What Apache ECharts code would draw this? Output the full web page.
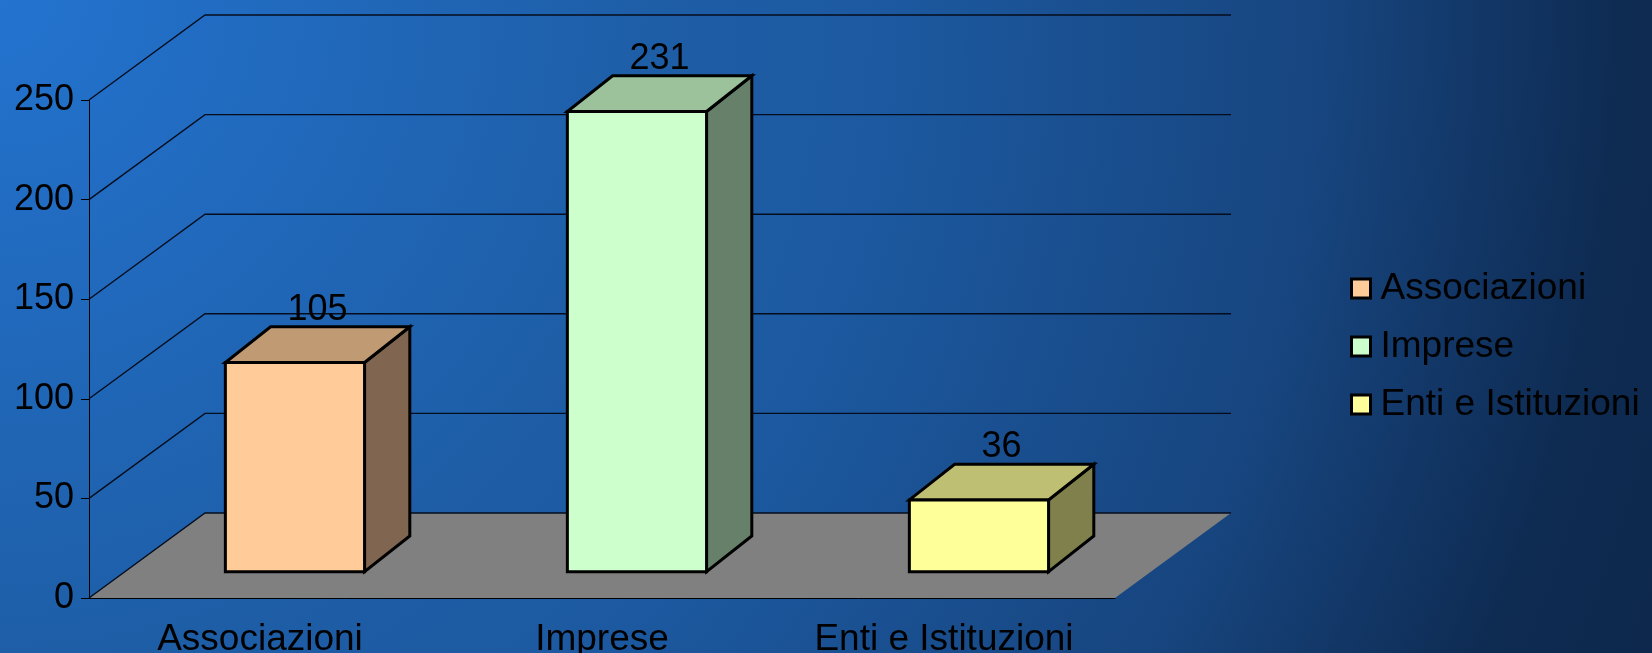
<!DOCTYPE html>
<html>
<head>
<meta charset="utf-8">
<script src="https://cdn.jsdelivr.net/npm/echarts@6/dist/echarts.min.js"></script>
<style>
  html, body { margin: 0; padding: 0; }
  #chart { width: 1652px; height: 653px; }
</style>
</head>
<body>
<div id="chart"></div>
<script>
// dati del grafico
const categories = ['Associazioni', 'Imprese', 'Enti e Istituzioni'];
const values = [105, 231, 36];
const yTicks = [0, 50, 100, 150, 200, 250];
const frontColors = ['#FFCC99', '#CCFFCC', '#FFFF99'];
const topColors = ['#C09A73', '#9BC29B', '#BFBF73'];
const sideColors = ['#806650', '#66806A', '#80804D'];

const FONT = '"Liberation Sans", Arial, sans-serif';
// profondita' della vista 3D (parete di fondo)
const DX = 116, DY = 85;
const F0 = 0.31, SHIFT = -1, BAR_W = 0.407;
const BAR_DX = DX * 0.39, BAR_DY = DY * 0.42;

let myChart = echarts.init(document.getElementById('chart'));

function renderWall(params, api) {
  const cs = params.coordSys;
  const v = api.value(1);
  const y = api.coord([0, v])[1];
  const x0 = cs.x, x1 = cs.x + cs.width;
  const children = [];
  if (v === 0) {
    children.push({
      type: 'polygon',
      shape: { points: [[x0, y], [x1, y], [x1 + DX, y - DY], [x0 + DX, y - DY]] },
      style: { fill: '#808080' }
    });
  }
  children.push({
    type: 'polyline',
    shape: { points: [[x0, y], [x0 + DX, y - DY], [x1 + DX, y - DY]] },
    style: { stroke: '#050d1c', lineWidth: 1.4, fill: null }
  });
  return { type: 'group', children: children };
}

function renderBar(params, api) {
  const i = params.seriesIndex - 1;
  const cat = api.value(0), val = api.value(1);
  const base = api.coord([cat, 0]);
  const top = api.coord([cat, val]);
  const bw = api.size([1, 0])[0] * BAR_W;
  const xl = base[0] - bw / 2 + DX * F0 + SHIFT, xr = xl + bw;
  const yb = base[1] - DY * F0, yt = top[1] - DY * F0;
  const dx = BAR_DX, dy = BAR_DY;
  const border = { stroke: '#000', lineWidth: 3, lineJoin: 'miter' };
  return {
    type: 'group',
    children: [
      {
        type: 'polygon',
        shape: { points: [[xr, yt], [xr + dx, yt - dy], [xr + dx, yb - dy], [xr, yb]] },
        style: Object.assign({ fill: sideColors[i] }, border)
      },
      {
        type: 'polygon',
        shape: { points: [[xl, yt], [xr, yt], [xr + dx, yt - dy], [xl + dx, yt - dy]] },
        style: Object.assign({ fill: topColors[i] }, border)
      },
      {
        type: 'polygon',
        shape: { points: [[xl, yt], [xr, yt], [xr, yb], [xl, yb]] },
        style: Object.assign({ fill: frontColors[i] }, border)
      },
      {
        type: 'text',
        style: {
          text: String(val),
          x: (xl + xr) / 2 + dx / 2,
          y: yt - dy + 1,
          align: 'center',
          verticalAlign: 'bottom',
          fill: '#000',
          fontSize: 36,
          fontFamily: FONT
        }
      }
    ]
  };
}

let series = [{
  name: 'parete',
  type: 'custom',
  renderItem: renderWall,
  z: 1,
  silent: true,
  data: yTicks.map(function (v) { return [0, v]; })
}];
categories.forEach(function (c, i) {
  series.push({
    name: c,
    type: 'custom',
    renderItem: renderBar,
    z: 2,
    itemStyle: { color: frontColors[i], borderColor: '#000', borderWidth: 3 },
    data: [[i, values[i]]]
  });
});

let option = {
  animation: false,
  backgroundColor: {
    type: 'radial',
    x: 0, y: 0, r: 2.7,
    colorStops: [
      { offset: 0, color: '#2373CF' },
      { offset: 0.37, color: '#1E5EA7' },
      { offset: 0.5, color: '#1C59A0' },
      { offset: 0.75, color: '#17457F' },
      { offset: 0.92, color: '#0E2B52' },
      { offset: 1, color: '#0D284C' }
    ]
  },
  grid: { left: 89, top: 100, width: 1026, height: 498, outerBoundsMode: 'none' },
  legend: {
    data: categories,
    orient: 'vertical',
    left: 1345,
    top: 265,
    icon: 'rect',
    itemWidth: 19,
    itemHeight: 19,
    itemGap: 21,
    itemStyle: { borderColor: '#000', borderWidth: 3 },
    textStyle: { color: '#000', fontSize: 37, fontFamily: FONT, padding: [0, 0, 0, 5] }
  },
  xAxis: {
    type: 'category',
    data: categories,
    axisLine: { lineStyle: { color: '#000', width: 1 } },
    axisTick: { length: 8, lineStyle: { color: '#000' } },
    axisLabel: { color: '#000', fontSize: 37, fontFamily: FONT, margin: 23 },
    splitLine: { show: false }
  },
  yAxis: {
    type: 'value',
    min: 0,
    max: 250,
    interval: 50,
    axisLine: { show: true, lineStyle: { color: '#000', width: 1 } },
    axisTick: { show: true, length: 8, lineStyle: { color: '#000' } },
    axisLabel: { color: '#000', fontSize: 36, fontFamily: FONT, margin: 15 },
    splitLine: { show: false }
  },
  series: series
};
myChart.setOption(option);

window.addEventListener('resize', function () {
  myChart.resize();
});
</script>
</body>
</html>
